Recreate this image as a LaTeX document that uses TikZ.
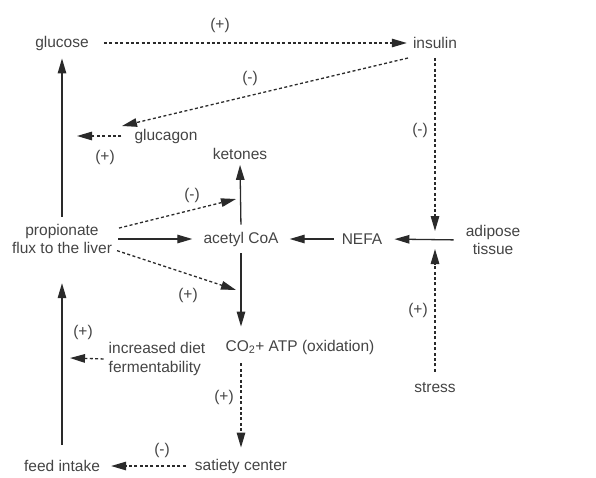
\documentclass[tikz,border=0pt]{standalone}
\usepackage{fontspec}
\setmainfont{Liberation Sans}
\usetikzlibrary{arrows.meta}
\definecolor{txt}{HTML}{444444}
\definecolor{ln}{HTML}{2A2A2A}
\begin{document}
\begin{tikzpicture}[x=1pt,y=-1pt,
  lbl/.style={text=txt,font=\fontsize{15.5}{18.5}\selectfont,inner sep=3pt},
  sgn/.style={text=txt,font=\fontsize{15.5}{18.5}\selectfont,inner sep=1pt},
  solidarr/.style={draw=ln,line width=1.3pt,-{Triangle[length=15pt,width=8.5pt]}},
  dasharr/.style={draw=ln,line width=1.3pt,dash pattern=on 3pt off 2.4pt,-{Triangle[length=15pt,width=8.5pt]}}]
\useasboundingbox (0,0) rectangle (596,477);
% nodes
\node[lbl] (glucose) at (62,43) {glucose};
\node[lbl] (insulin) at (435,43) {insulin};
\node[lbl] (glucagon) at (166,136) {glucagon};
\node[lbl] (ketones) at (240,154) {ketones};
\node[lbl,align=center] (prop) at (62,239) {propionate\\flux to the liver};
\node[lbl] (acetyl) at (241,239) {acetyl CoA};
\node[lbl] (nefa) at (362,239) {NEFA};
\node[lbl,align=center] (adipose) at (493,240) {adipose\\tissue};
\node[lbl] (co2) at (300,347) {CO\textsubscript{2}+ ATP (oxidation)};
\node[lbl,align=left] (diet) at (157,359) {increased diet\\fermentability};
\node[lbl] (stress) at (435,388) {stress};
\node[lbl] (satiety) at (241,466) {satiety center};
\node[lbl] (feed) at (62,466) {feed intake};
% helper coordinates
\coordinate (insout) at (408,58);
\coordinate (glin) at (122,126);
\coordinate (glvert) at (77,136);
\coordinate (junc) at (435,239);
\coordinate (kin) at (236,199);
\coordinate (cin) at (236,290);
\coordinate (dvert) at (70,358);
% connectors
\draw[dasharr,shorten <=12pt,shorten >=3pt] (glucose) -- (insulin);
\draw[dasharr] (insout) -- (glin);
\draw[dasharr,shorten <=10pt] (glucagon.west) -- (glvert);
\draw[dasharr,shorten <=6pt,shorten >=8pt] (insulin.south) -- (junc);
\draw[dasharr,shorten <=8pt,shorten >=10pt] (stress.north) -- (junc);
\draw[solidarr,shorten <=9pt,shorten >=9pt] (adipose.west) -- (nefa.east);
\draw[solidarr,shorten <=5pt,shorten >=8pt] (nefa.west) -- (acetyl.east);
\draw[solidarr,shorten <=3pt,shorten >=8pt] (prop.east) -- (acetyl.west);
\draw[solidarr,shorten <=4pt,shorten >=2pt] (acetyl.north) -- (ketones.south);
\draw[solidarr,shorten <=4pt,shorten >=10pt] (acetyl.south) -- (acetyl.south |- co2.north);
\draw[dasharr,shorten <=4pt] ([yshift=10pt]prop.east) -- (kin);
\draw[dasharr,shorten <=2pt] ([yshift=-11pt]prop.east) -- (cin);
\draw[dasharr,shorten <=2pt] (diet.west) -- (dvert);
\draw[solidarr,shorten <=4pt,shorten >=5pt] (prop.north) -- (glucose.south);
\draw[solidarr,shorten <=12pt,shorten >=26pt] (feed.north) -- (prop.south);
\draw[dasharr,shorten <=6pt,shorten >=8pt] (satiety.north |- co2.south) -- (satiety.north);
\draw[dasharr,shorten <=6pt,shorten >=8pt] (satiety.west) -- (feed.east);
% signs
\node[sgn] at (220,25) {(+)};
\node[sgn] at (250,78) {(-)};
\node[sgn] at (105,157) {(+)};
\node[sgn] at (420,130) {(-)};
\node[sgn] at (192,195) {(-)};
\node[sgn] at (188,295) {(+)};
\node[sgn] at (83,332) {(+)};
\node[sgn] at (224,397) {(+)};
\node[sgn] at (162,450) {(-)};
\node[sgn] at (418,310) {(+)};
\end{tikzpicture}
\end{document}
